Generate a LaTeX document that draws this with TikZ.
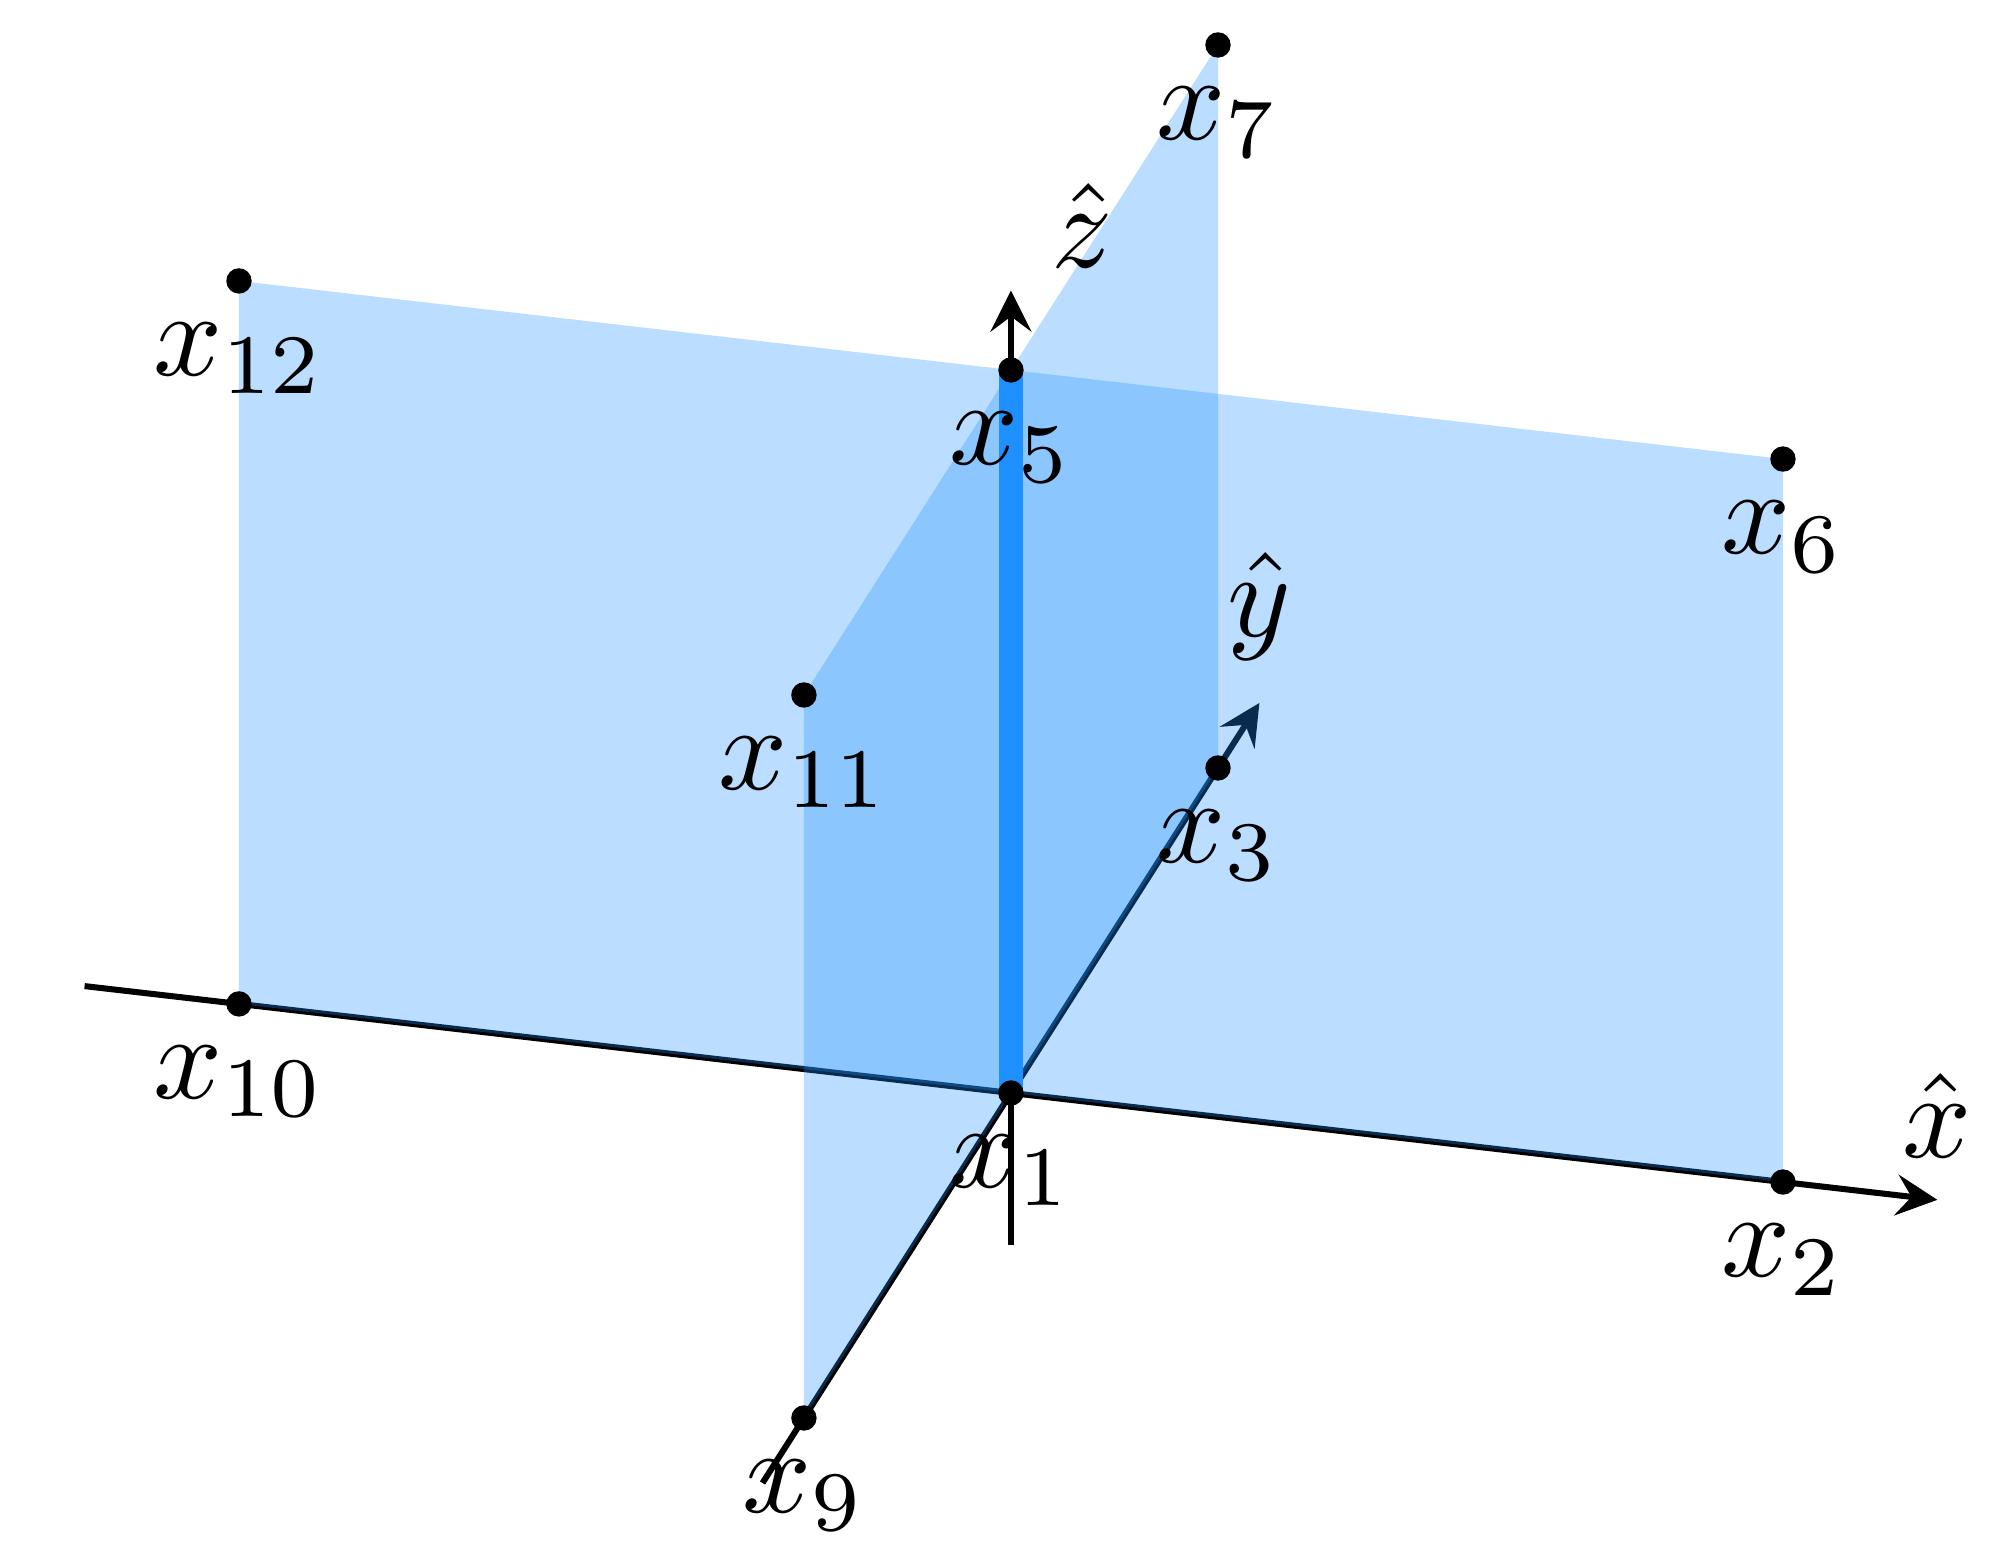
\documentclass[tikz,border=0pt]{standalone}
\usepackage{amssymb}
\usepackage{tikz}

\definecolor{dodgerblue}{RGB}{30,144,255}

\begin{document}
\begin{tikzpicture}[x={(63.8pt,-7.36pt)}, y={(17.11pt,26.86pt)}, z={(0pt,59.75pt)},
  axis/.style={-stealth, line width=0.5pt},
  plane/.style={fill=dodgerblue, fill opacity=0.3},
  dot/.style={circle, fill=black, inner sep=0pt, minimum size=2.1pt}]
\useasboundingbox (-83.55pt,-37.44pt) rectangle (81.74pt,90.33pt);

\coordinate (x1) at (0,0,0);
\coordinate (x2) at (1,0,0);
\coordinate (x3) at (0,1,0);
\coordinate (x5) at (0,0,1);
\coordinate (x6) at (1,0,1);
\coordinate (x7) at (0,1,1);
\coordinate (x9) at (0,-1,0);
\coordinate (x10) at (-1,0,0);
\coordinate (x11) at (0,-1,1);
\coordinate (x12) at (-1,0,1);

% axes
\coordinate (xa) at (-1.2,0,0);
\coordinate (xb) at (1.2,0,0);
\coordinate (ya) at (0,-1.2,0);
\coordinate (yb) at (0,1.2,0);
\coordinate (za) at (0,0,-0.21);
\coordinate (zb) at (0,0,1.11);
\draw[axis] (xa) -- (xb);
\draw[axis] (ya) -- (yb);
\draw[axis] (za) -- (zb);

% planes
\fill[plane] (x10) -- (x2) -- (x6) -- (x12) -- cycle;
\fill[plane] (x9) -- (x3) -- (x7) -- (x11) -- cycle;
\draw[dodgerblue, line width=2pt] (x1) -- (x5);

\node[above] (xhat) at (xb) {$\hat{x}$};
\node[above] (yhat) at (yb) {$\hat{y}$};
\node[xshift=5.87pt, yshift=5.37pt] (zhat) at (zb) {$\hat{z}$};

\node[dot] (d1) at (x1) {};
\node[dot] (d2) at (x2) {};
\node[dot] (d3) at (x3) {};
\node[dot] (d5) at (x5) {};
\node[dot] (d6) at (x6) {};
\node[dot] (d7) at (x7) {};
\node[dot] (d9) at (x9) {};
\node[dot] (d10) at (x10) {};
\node[dot] (d11) at (x11) {};
\node[dot] (d12) at (x12) {};

\node[below] (l1) at (x1) {$x_1$};
\node[below] (l2) at (x2) {$x_2$};
\node[below] (l3) at (x3) {$x_3$};
\node[below] (l5) at (x5) {$x_5$};
\node[below] (l6) at (x6) {$x_6$};
\node[below] (l7) at (x7) {$x_7$};
\node[below] (l9) at (x9) {$x_9$};
\node[below] (l10) at (x10) {$x_{10}$};
\node[below] (l11) at (x11) {$x_{11}$};
\node[below] (l12) at (x12) {$x_{12}$};
\end{tikzpicture}
\end{document}
